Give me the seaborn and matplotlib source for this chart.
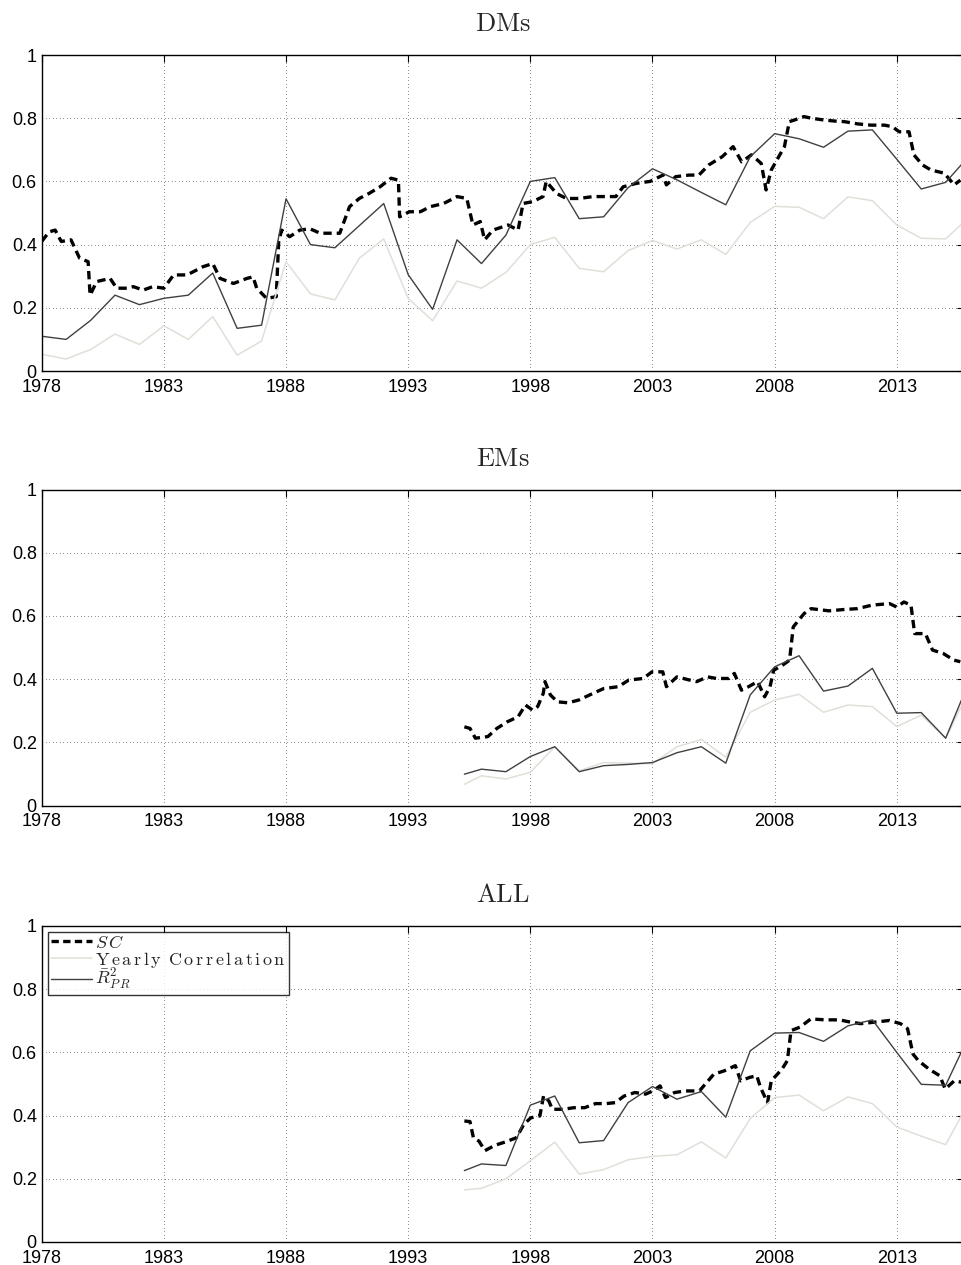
import numpy as np
import pandas as pd
import matplotlib
matplotlib.use("Agg")
import matplotlib.pyplot as plt
import seaborn as sns

# ---------------- data ----------------
panel_titles = ["DMs", "EMs", "ALL"]
x_ticks = [1978, 1983, 1988, 1993, 1998, 2003, 2008, 2013]
y_ticks = [0, 0.2, 0.4, 0.6, 0.8, 1]
y_tick_labels = ["0", "0.2", "0.4", "0.6", "0.8", "1"]
legend_labels = [r"$S\,C$",
                 r"$\mathrm{Y\,e\,a\,r\,l\,y\ \,C\,o\,r\,r\,e\,l\,a\,t\,i\,o\,n}$",
                 r"$\bar{R}^2_{P\,R}$"]

# DMs
dm_year = list(range(1978, 2017))
dm_r2 = [0.11, 0.10, 0.16, 0.24, 0.21, 0.23, 0.24, 0.31, 0.135, 0.145,
         0.545, 0.40, 0.39, 0.46, 0.53, 0.305, 0.195, 0.415, 0.34, 0.43,
         0.60, 0.612, 0.482, 0.488, 0.58, 0.64, 0.605, 0.565, 0.526, 0.678,
         0.751, 0.735, 0.708, 0.759, 0.763, 0.67, 0.576, 0.597, 0.684]
dm_yc = [0.053, 0.038, 0.068, 0.117, 0.084, 0.143, 0.10, 0.172, 0.05, 0.095,
         0.346, 0.244, 0.225, 0.357, 0.418, 0.23, 0.159, 0.285, 0.262, 0.312,
         0.40, 0.423, 0.325, 0.314, 0.381, 0.413, 0.386, 0.415, 0.369, 0.47,
         0.521, 0.518, 0.482, 0.551, 0.539, 0.462, 0.42, 0.418, 0.49]
dm_sc_t = [1978.0, 1978.3, 1978.55, 1978.8, 1979.2, 1979.55, 1979.9, 1979.98, 1980.25, 1980.8,
           1981.07, 1981.5, 1981.75, 1982.15, 1982.55, 1983.0, 1983.4, 1983.95, 1984.6, 1985.0,
           1985.3, 1985.85, 1986.4, 1986.65, 1986.8, 1987.2, 1987.6, 1987.7, 1987.82, 1988.15,
           1988.57, 1988.98, 1989.4, 1989.9, 1990.2, 1990.6, 1991.0, 1991.4, 1991.85, 1992.3,
           1992.6, 1992.65, 1993.05, 1993.5, 1993.9, 1994.45, 1995.0, 1995.4, 1995.65, 1995.95,
           1996.13, 1996.47, 1997.09, 1997.5, 1997.7, 1998.1, 1998.52, 1998.65, 1999.07, 1999.47,
           2000.0, 2000.57, 2000.98, 2001.5, 2001.8, 2002.35, 2002.9, 2003.43, 2003.57, 2003.95,
           2004.5, 2004.9, 2005.3, 2005.85, 2006.3, 2006.65, 2007.05, 2007.45, 2007.65, 2007.86,
           2008.4, 2008.6, 2008.8, 2009.2, 2009.5, 2010.04, 2010.45, 2010.86, 2011.4, 2011.95,
           2012.5, 2012.82, 2013.1, 2013.5, 2013.7, 2014.05, 2014.4, 2014.94, 2015.35, 2015.6]
dm_sc = [0.41, 0.44, 0.446, 0.41, 0.415, 0.357, 0.346, 0.24, 0.283, 0.293,
         0.262, 0.262, 0.267, 0.256, 0.267, 0.262, 0.304, 0.304, 0.33, 0.34,
         0.293, 0.277, 0.293, 0.298, 0.262, 0.23, 0.235, 0.41, 0.446, 0.425,
         0.446, 0.45, 0.436, 0.436, 0.436, 0.52, 0.546, 0.562, 0.583, 0.61,
         0.604, 0.488, 0.504, 0.504, 0.52, 0.53, 0.552, 0.546, 0.462, 0.473,
         0.415, 0.446, 0.462, 0.446, 0.53, 0.536, 0.552, 0.60, 0.562, 0.546,
         0.546, 0.552, 0.552, 0.552, 0.583, 0.594, 0.60, 0.62, 0.589, 0.615,
         0.62, 0.62, 0.652, 0.678, 0.71, 0.662, 0.684, 0.657, 0.573, 0.636,
         0.71, 0.789, 0.794, 0.805, 0.80, 0.794, 0.791, 0.789, 0.782, 0.778,
         0.778, 0.773, 0.757, 0.757, 0.684, 0.652, 0.636, 0.626, 0.589, 0.604]

# EMs
em_year = [1995.3] + list(range(1996, 2017))
em_r2 = [0.099, 0.115, 0.107, 0.155, 0.186, 0.107, 0.126, 0.13, 0.136, 0.167,
         0.186, 0.134, 0.35, 0.439, 0.474, 0.362, 0.378, 0.434, 0.292, 0.294,
         0.213, 0.40]
em_yc = [0.067, 0.094, 0.084, 0.105, 0.186, 0.11, 0.136, 0.134, 0.132, 0.186,
         0.209, 0.153, 0.295, 0.334, 0.352, 0.295, 0.318, 0.313, 0.25, 0.286,
         0.213, 0.37]
em_sc_t = [1995.3, 1995.53, 1995.75, 1996.26, 1996.63, 1997.06, 1997.5, 1997.8, 1998.09, 1998.3,
           1998.53, 1998.6, 1998.82, 1999.11, 1999.55, 1999.99, 2000.57, 2001.0, 2001.6, 2002.03,
           2002.62, 2002.98, 2003.42, 2003.57, 2004.0, 2004.52, 2004.81, 2005.25, 2005.62, 2006.13,
           2006.35, 2006.64, 2006.93, 2007.3, 2007.59, 2007.81, 2007.96, 2008.32, 2008.61, 2008.76,
           2009.2, 2009.49, 2010.22, 2010.8, 2011.39, 2011.98, 2012.7, 2013.0, 2013.29, 2013.58,
           2013.73, 2014.17, 2014.46, 2014.9, 2015.34, 2015.6]
em_sc = [0.249, 0.244, 0.213, 0.218, 0.244, 0.265, 0.281, 0.318, 0.302, 0.313,
         0.355, 0.392, 0.35, 0.328, 0.325, 0.334, 0.355, 0.37, 0.376, 0.397,
         0.402, 0.423, 0.423, 0.376, 0.407, 0.397, 0.392, 0.407, 0.402, 0.402,
         0.418, 0.365, 0.376, 0.392, 0.344, 0.376, 0.428, 0.444, 0.46, 0.565,
         0.607, 0.623, 0.616, 0.62, 0.623, 0.634, 0.639, 0.628, 0.644, 0.634,
         0.544, 0.544, 0.492, 0.481, 0.46, 0.455]

# ALL
all_year = [1995.3] + list(range(1996, 2017))
all_r2 = [0.226, 0.247, 0.242, 0.433, 0.462, 0.314, 0.321, 0.441, 0.492, 0.452,
          0.476, 0.395, 0.605, 0.661, 0.663, 0.635, 0.684, 0.703, 0.60, 0.499,
          0.496, 0.66]
all_yc = [0.165, 0.17, 0.20, 0.257, 0.316, 0.215, 0.229, 0.26, 0.271, 0.276,
          0.317, 0.266, 0.391, 0.457, 0.465, 0.415, 0.459, 0.438, 0.364, 0.335,
          0.308, 0.45]
all_sc_t = [1995.3, 1995.53, 1995.67, 1995.9, 1996.14, 1996.55, 1996.99, 1997.43, 1997.73, 1998.02,
            1998.39, 1998.54, 1998.76, 1998.9, 1999.34, 1999.78, 2000.22, 2000.67, 2001.1, 2001.47,
            2001.84, 2002.28, 2002.72, 2003.01, 2003.31, 2003.53, 2003.9, 2004.34, 2004.92, 2005.22,
            2005.51, 2005.95, 2006.39, 2006.61, 2006.98, 2007.27, 2007.42, 2007.71, 2007.86, 2008.3,
            2008.52, 2008.67, 2009.04, 2009.48, 2010.06, 2010.65, 2011.09, 2011.53, 2012.12, 2012.7,
            2013.15, 2013.44, 2013.66, 2013.88, 2014.32, 2014.76, 2014.98, 2015.35, 2015.7]
all_sc = [0.383, 0.381, 0.33, 0.319, 0.289, 0.306, 0.317, 0.33, 0.372, 0.393,
          0.399, 0.462, 0.446, 0.42, 0.42, 0.425, 0.425, 0.438, 0.438, 0.441,
          0.462, 0.473, 0.468, 0.478, 0.494, 0.457, 0.473, 0.478, 0.478, 0.505,
          0.531, 0.542, 0.558, 0.51, 0.521, 0.526, 0.489, 0.441, 0.51, 0.547,
          0.574, 0.669, 0.68, 0.706, 0.703, 0.703, 0.696, 0.691, 0.696, 0.701,
          0.691, 0.675, 0.595, 0.574, 0.547, 0.526, 0.484, 0.51, 0.505]

panels = [
    (dm_year, dm_r2, dm_yc, dm_sc_t, dm_sc),
    (em_year, em_r2, em_yc, em_sc_t, em_sc),
    (all_year, all_r2, all_yc, all_sc_t, all_sc),
]

# ---------------- style ----------------
sns.set_style("white")
plt.rcParams["font.family"] = ["Liberation Sans", "DejaVu Sans"]
plt.rcParams["mathtext.fontset"] = "cm"
plt.rcParams["xtick.direction"] = "in"
plt.rcParams["ytick.direction"] = "in"

W, H = 961, 1265
fig = plt.figure(figsize=(W / 100, H / 100), dpi=100)

left_px, right_px = 41.7, 964
tops_px = [55, 489.5, 926]
ax_h_px = 316

sc_color = "black"
yc_color = "#e0dfd8"
r2_color = "#404040"

for i, (yr, r2, yc, sct, sc) in enumerate(panels):
    top = tops_px[i]
    ax = fig.add_axes([left_px / W, 1 - (top + ax_h_px) / H,
                       (right_px - left_px) / W, ax_h_px / H])
    df_sc = pd.DataFrame({"t": sct, "v": sc})
    df_y = pd.DataFrame({"t": yr, "r2": r2, "yc": yc})
    sns.lineplot(data=df_sc, x="t", y="v", ax=ax, color=sc_color, lw=2.4,
                 label=legend_labels[0], sort=False)
    ax.lines[-1].set_dashes((2.5, 1.5))
    sns.lineplot(data=df_y, x="t", y="yc", ax=ax, color=yc_color, lw=1.1,
                 label=legend_labels[1], sort=False)
    sns.lineplot(data=df_y, x="t", y="r2", ax=ax, color=r2_color, lw=1.0,
                 label=legend_labels[2], sort=False)

    ax.set_xlim(1978, 2015.75)
    ax.set_ylim(0, 1)
    ax.set_xticks(x_ticks)
    ax.set_xticklabels([str(t) for t in x_ticks])
    ax.set_yticks(y_ticks)
    ax.set_yticklabels(y_tick_labels)
    ax.set_xlabel("")
    ax.set_ylabel("")
    ax.tick_params(axis="both", which="both", direction="in", length=5, width=0.8,
                   labelsize=13, top=True, right=True, pad=3.5, colors="black")
    ax.tick_params(axis="x", pad=5.5)
    for s in ax.spines.values():
        s.set_color("black")
        s.set_linewidth(1.0)
    ax.grid(True, color="black", lw=0.6, linestyle=(0, (0.6, 3.6)))
    ax.set_axisbelow(True)
    ax.set_title(r"$\mathrm{" + panel_titles[i] + "}$", fontsize=19, pad=17)

    if i == 2:
        leg = ax.legend(loc="upper left", bbox_to_anchor=(0.007, 0.981),
                        frameon=True, fancybox=False, edgecolor="black",
                        fontsize=13, handlelength=2.3, handletextpad=0.15,
                        labelspacing=-0.12, borderpad=0.15, borderaxespad=0.0)
        leg.get_frame().set_linewidth(1.0)
        for h in leg.get_lines()[:1]:
            h.set_dashes((2.2, 1.3))
    else:
        ax.legend_.remove()

fig.savefig("out.png", dpi=100)
